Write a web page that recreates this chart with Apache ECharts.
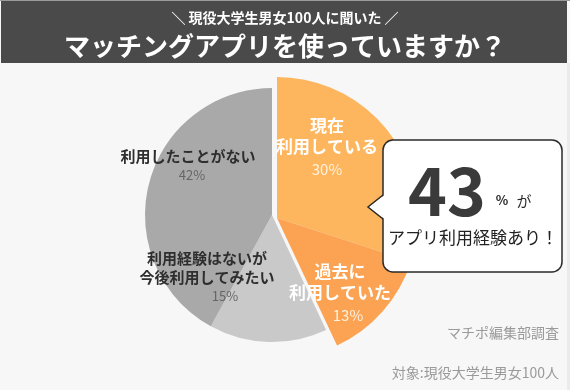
<!DOCTYPE html>
<html>
<head>
<meta charset="utf-8">
<script src="https://cdn.jsdelivr.net/npm/echarts@6/dist/echarts.min.js"></script>
<style>
html,body{margin:0;padding:0;background:#F7F7F7;}
#chart{width:570px;height:390px;}
</style>
</head>
<body>
<div id="chart"></div>
<script>
// ---- data ----
const categories = ['現在\n利用している', '過去に\n利用していた', '利用経験はないが\n今後利用してみたい', '利用したことがない'];
const values = [30, 13, 15, 42];
const usedGroup = [true, true, false, false];   // orange (have used) vs gray
const headlineValue = '43';
const subTitle = '＼ 現役大学生男女100人に聞いた ／';
const mainTitle = 'マッチングアプリを使っていますか？';
const calloutLine = 'アプリ利用経験あり！';
const sourceNote = 'マチポ編集部調査';
const targetNote = '対象:現役大学生男女100人';

// ---- style / layout ----
const colors = ['#FDB65D', '#FBA352', '#C9C9C9', '#A9A9A9'];
const labelPos = [[327, 148], [340, 294], [207, 277], [188, 166]];
const pctPad = [0, 16, 36, 8];
const FONT = '"Noto Sans CJK JP", "Noto Sans", sans-serif';

const chart = echarts.init(document.getElementById('chart'), null, {renderer: 'canvas'});

function buildData(forUsed) {
  return values.map((v, i) => {
    const mine = usedGroup[i] === forUsed;
    return {
      name: categories[i],
      value: v,
      itemStyle: {color: mine ? colors[i] : 'rgba(0,0,0,0)'},
      label: {show: mine}
    };
  });
}

function makeRich() {
  const rich = {
    o: {fontFamily: FONT, fontSize: 17, fontWeight: 'bold', color: '#FFFFFF', lineHeight: 21, align: 'center'},
    g: {fontFamily: FONT, fontSize: 15, fontWeight: 'bold', color: '#2E2E2E', lineHeight: 19, align: 'center'}
  };
  for (let i = 0; i < values.length; i++) {
    rich['p' + i] = usedGroup[i]
      ? {fontFamily: FONT, fontSize: 15, color: '#FFF2DF', lineHeight: 24, align: 'center', padding: [0, 0, 0, pctPad[i]]}
      : {fontFamily: FONT, fontSize: 13, color: '#666666', lineHeight: 19, align: 'center', padding: [0, 0, 0, pctPad[i]]};
  }
  return rich;
}

function formatter(p) {
  const key = usedGroup[p.dataIndex] ? 'o' : 'g';
  const lines = p.name.split('\n').map(s => '{' + key + '|' + s + '}');
  lines.push('{p' + p.dataIndex + '|' + p.value + '%}');
  return lines.join('\n');
}

function labelLayout(params) {
  const pos = labelPos[params.dataIndex];
  return {x: pos[0], y: pos[1], align: 'center', verticalAlign: 'middle'};
}

const commonSeries = {
  type: 'pie',
  startAngle: 90,
  clockwise: true,
  silent: true,
  animation: false,
  labelLine: {show: false},
  emphasis: {disabled: true},
  label: {position: 'inside', formatter: formatter, rich: makeRich()},
  labelLayout: labelLayout
};

const option = {
  backgroundColor: '#F7F7F7',
  animation: false,
  series: [
    Object.assign({}, commonSeries, {
      name: 'gray', center: [272, 215], radius: [0, 127], data: buildData(false)
    }),
    Object.assign({}, commonSeries, {
      name: 'orange', center: [277, 218], radius: [0, 141], data: buildData(true)
    })
  ],
  graphic: [
    {type: 'rect', z: 10, shape: {x: 0, y: 0, width: 570, height: 1}, style: {fill: '#9A9A9A'}},
    {type: 'rect', z: 10, shape: {x: 1, y: 1, width: 566, height: 62}, style: {fill: '#4A4A4A'}},
    {type: 'rect', z: 10, shape: {x: 567, y: 63, width: 3, height: 327}, style: {fill: '#EBEBEB'}},
    {type: 'text', z: 11, style: {text: subTitle, x: 285, y: 18, align: 'center', verticalAlign: 'middle',
      fill: '#FFFFFF', font: 'bold 14px ' + FONT}},
    {type: 'text', z: 11, style: {text: mainTitle, x: 285, y: 46, align: 'center', verticalAlign: 'middle',
      fill: '#FFFFFF', font: 'bold 26px ' + FONT}},
    {type: 'rect', z: 20, shape: {x: 383, y: 140, width: 179, height: 132, r: 10},
      style: {fill: '#FFFFFF', stroke: '#2A2A2A', lineWidth: 1.5}},
    {type: 'polygon', z: 21, shape: {points: [[368, 207], [384.5, 195], [384.5, 219]]},
      style: {fill: '#FFFFFF'}},
    {type: 'polyline', z: 22, shape: {points: [[383, 195], [368, 207], [383, 219]]},
      style: {fill: null, stroke: '#2A2A2A', lineWidth: 1.5}},
    {type: 'text', z: 23, style: {text: headlineValue, x: 447, y: 191, align: 'center', verticalAlign: 'middle',
      fill: '#3A3A3A', font: 'bold 66px ' + FONT}},
    {type: 'text', z: 23, style: {text: '%', x: 502, y: 200, align: 'center', verticalAlign: 'middle',
      fill: '#2A2A2A', font: 'bold 13px ' + FONT}},
    {type: 'text', z: 23, style: {text: 'が', x: 524, y: 201, align: 'center', verticalAlign: 'middle',
      fill: '#2A2A2A', font: '15px ' + FONT}},
    {type: 'text', z: 23, style: {text: calloutLine, x: 473, y: 238, align: 'center', verticalAlign: 'middle',
      fill: '#222222', font: '17px ' + FONT}},
    {type: 'text', z: 11, style: {text: sourceNote, x: 559, y: 333, align: 'right', verticalAlign: 'middle',
      fill: '#9A9A9A', font: '14px ' + FONT}},
    {type: 'text', z: 11, style: {text: targetNote, x: 559, y: 373, align: 'right', verticalAlign: 'middle',
      fill: '#9A9A9A', font: '14px ' + FONT}}
  ]
};
chart.setOption(option);
</script>
</body>
</html>
